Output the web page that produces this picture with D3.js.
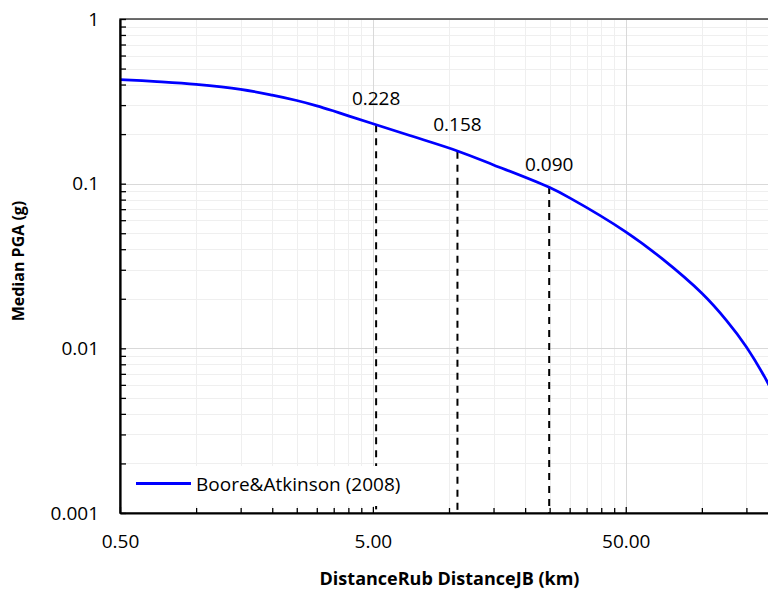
<!DOCTYPE html>
<meta charset="utf-8">
<head>
<style>
body { margin: 0; background: #fff; }
svg { display: block; font-family: "Open Sans", sans-serif; }
.grid line { shape-rendering: crispEdges; }
.grid path { display: none; }
</style>
</head>
<body>
<script src="https://cdn.jsdelivr.net/npm/d3@7"></script>
<svg id="chart" width="768" height="593"></svg>
<script>

// curve: distance (km) vs median PGA (g)
var distKm    = [0.5, 0.7, 1, 1.5, 2, 2.5, 3, 3.5, 4, 5.15, 7, 10.8, 15, 24.9, 30, 50, 70, 100, 125, 150, 182, 200];
var medianPga = [0.429, 0.417, 0.401, 0.374, 0.345, 0.320, 0.297, 0.276, 0.258, 0.228, 0.196, 0.158, 0.130, 0.095, 0.082, 0.051, 0.0348, 0.0216, 0.0148, 0.0102, 0.0062, 0.0046];

// marked distances with their labels
var markDist  = [5.15, 10.8, 24.9];
var markTop   = [0.226, 0.156, 0.0955];
var markValue = [0.228, 0.158, 0.090];
var markText  = ["0.228", "0.158", "0.090"];

var xMajor = [0.5, 5, 50];
var yMajor = [1, 0.1, 0.01, 0.001];
var seriesName = "Boore&Atkinson (2008)";

var svg = d3.select("#chart"),
    margin = {top: 19, left: 120},
    width = 658,
    height = 494,
    g = svg.append("g").attr("transform", "translate(" + margin.left + "," + margin.top + ")");

var x = d3.scaleLog().domain([0.5, 200]).range([0, width]);
var y = d3.scaleLog().domain([0.001, 1]).range([height, 0]);

// minor values: 2..9 times each decade start
var xMinor = [];
xMajor.forEach(function(b) { for (var k = 2; k <= 9; k++) if (b * k <= 200) xMinor.push(b * k); });
var yMinor = [];
[0.001, 0.01, 0.1].forEach(function(b) { for (var k = 2; k <= 9; k++) yMinor.push(b * k); });

// gridlines
g.append("g").attr("class", "grid")
    .attr("transform", "translate(0," + height + ")")
    .call(d3.axisBottom(x).tickValues(xMinor).tickSize(-height).tickFormat(""))
    .selectAll("line").attr("stroke", "#efefef");
g.append("g").attr("class", "grid")
    .call(d3.axisLeft(y).tickValues(yMinor).tickSize(-width).tickFormat(""))
    .selectAll("line").attr("stroke", "#efefef");
g.append("g").attr("class", "grid")
    .attr("transform", "translate(0," + height + ")")
    .call(d3.axisBottom(x).tickValues(xMajor).tickSize(-height).tickFormat(""))
    .selectAll("line").attr("stroke", "#d9d9d9");
g.append("g").attr("class", "grid")
    .call(d3.axisLeft(y).tickValues(yMajor).tickSize(-width).tickFormat(""))
    .selectAll("line").attr("stroke", "#d9d9d9");

// plot area border
g.append("rect")
    .attr("width", width)
    .attr("height", height)
    .attr("fill", "none")
    .attr("stroke", "#404040")
    .attr("stroke-width", 1.5);

svg.append("clipPath").attr("id", "plotclip")
  .append("rect").attr("width", width).attr("height", height);

// dashed markers
var marks = markDist.map(function(d, i) { return {d: d, top: markTop[i], v: markValue[i], t: markText[i]}; });

g.selectAll(".mark")
  .data(marks)
  .enter().append("line")
    .attr("class", "mark")
    .attr("x1", function(d) { return x(d.d); })
    .attr("x2", function(d) { return x(d.d); })
    .attr("y1", function(d) { return y(d.top); })
    .attr("y2", height)
    .attr("stroke", "#000")
    .attr("stroke-width", 2)
    .attr("stroke-dasharray", "7,6");

// curve
var pts = distKm.map(function(d, i) { return [d, medianPga[i]]; });
var line = d3.line()
    .x(function(d) { return x(d[0]); })
    .y(function(d) { return y(d[1]); })
    .curve(d3.curveCatmullRom.alpha(0.5));

g.append("path")
    .datum(pts)
    .attr("clip-path", "url(#plotclip)")
    .attr("fill", "none")
    .attr("stroke", "#0000ff")
    .attr("stroke-width", 2.75)
    .attr("d", line);

g.selectAll(".marklabel")
  .data(marks)
  .enter().append("text")
    .attr("class", "marklabel")
    .attr("x", function(d) { return x(d.d); })
    .attr("y", function(d) { return y(d.v) - 20; })
    .attr("text-anchor", "middle")
    .attr("font-size", 19)
    .attr("fill", "#000")
    .text(function(d) { return d.t; });

// legend
var legend = g.append("g").attr("transform", "translate(2," + (466 - margin.top) + ")");
legend.append("rect")
    .attr("width", 286)
    .attr("height", 40)
    .attr("fill", "#fff");
legend.append("line")
    .attr("x1", 14).attr("x2", 69)
    .attr("y1", 17.5).attr("y2", 17.5)
    .attr("stroke", "#0000ff")
    .attr("stroke-width", 3);
legend.append("text")
    .attr("x", 74)
    .attr("y", 25)
    .attr("font-size", 19)
    .attr("fill", "#000")
    .text(seriesName);

// axes
var ax = g.append("g")
    .attr("transform", "translate(0," + height + ")")
    .call(d3.axisBottom(x).tickValues(xMinor).tickSizeInner(-5).tickSizeOuter(0).tickFormat(""));
ax.select(".domain").remove();
ax.selectAll("line").attr("stroke", "#000").attr("stroke-width", 1.3);

var axM = g.append("g")
    .attr("transform", "translate(0," + height + ")")
    .call(d3.axisBottom(x).tickValues(xMajor).tickSizeInner(-6).tickSizeOuter(0).tickPadding(22).tickFormat(d3.format(".2f")));
axM.select(".domain").attr("stroke", "#000").attr("stroke-width", 2.2);
axM.selectAll("line").attr("stroke", "#000").attr("stroke-width", 1.3);
axM.selectAll("text").attr("font-size", 19).attr("font-family", "Open Sans").attr("fill", "#000");

var ay = g.append("g")
    .call(d3.axisLeft(y).tickValues(yMinor).tickSizeInner(-6).tickSizeOuter(0).tickFormat(""));
ay.select(".domain").remove();
ay.selectAll("line").attr("stroke", "#000").attr("stroke-width", 1.3);

var ayM = g.append("g")
    .call(d3.axisLeft(y).tickValues(yMajor).tickSizeInner(-6).tickSizeOuter(0).tickPadding(21).tickFormat(function(d) { return String(+d.toPrecision(1)); }));
ayM.select(".domain").attr("stroke", "#000").attr("stroke-width", 2.2);
ayM.selectAll("line").attr("stroke", "#000").attr("stroke-width", 1.3);
ayM.selectAll("text").attr("font-size", 19).attr("font-family", "Open Sans").attr("fill", "#000");

// axis titles
svg.append("text")
    .attr("x", 449.5)
    .attr("y", 585)
    .attr("text-anchor", "middle")
    .attr("font-size", 18)
    .attr("font-weight", "bold")
    .text("DistanceRub DistanceJB (km)");

svg.append("text")
    .attr("transform", "translate(24,261) rotate(-90)")
    .attr("text-anchor", "middle")
    .attr("font-size", 16)
    .attr("font-weight", "bold")
    .text("Median PGA (g)");

</script>
</body>
</html>
